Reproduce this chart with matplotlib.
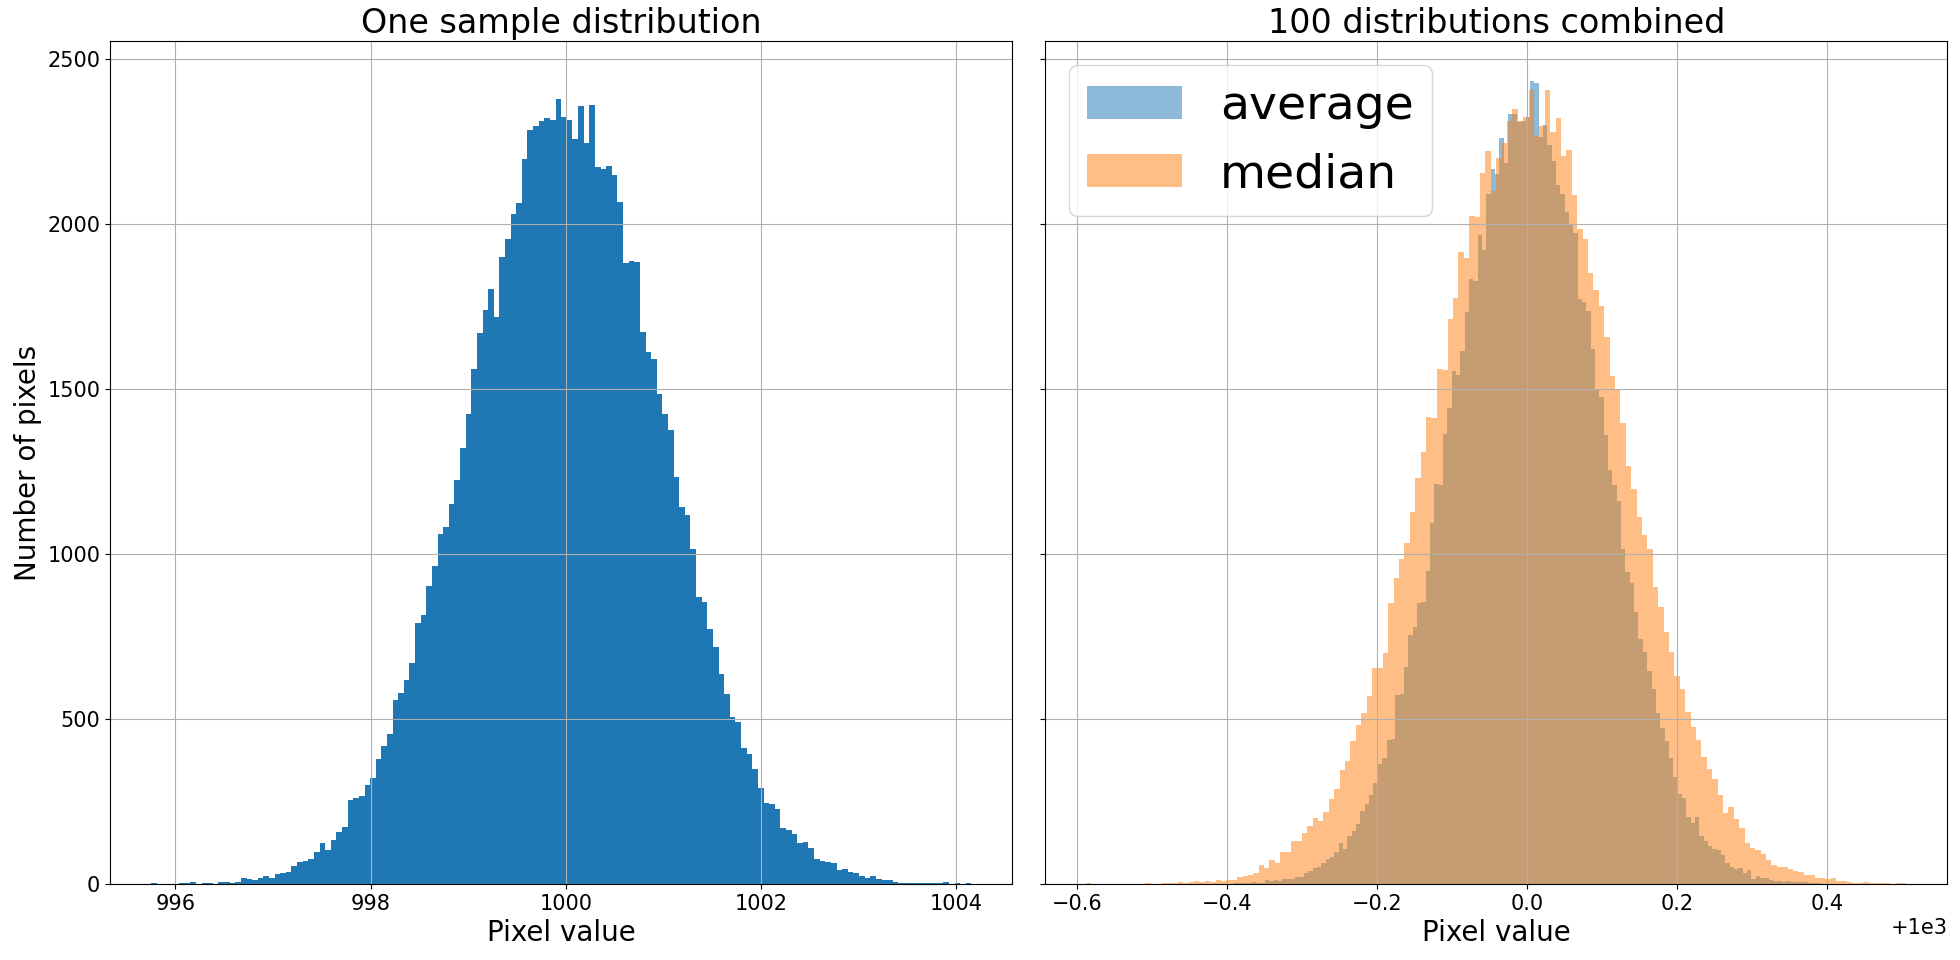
import numpy as np
import matplotlib.pyplot as plt

plt.rcParams['xtick.labelsize'] = 15
plt.rcParams['ytick.labelsize'] = 15

# one sample: counts per bin, bins span 995.751 .. 1004.156
single_lo, single_hi = 995.751, 1004.156
single_counts = [4, 0, 0, 0, 0, 4, 4, 7, 0, 4, 4, 0, 7, 7, 4, 7, 20, 16, 13, 19,
                 25, 19, 31, 34, 38, 56, 68, 71, 77, 98, 126, 104, 135, 159, 174, 254, 260, 266, 299,
                 320, 378, 418, 454, 559, 579, 619, 670, 792, 814, 904, 962, 1059, 1081, 1150,
                 1224, 1322, 1424, 1561, 1668, 1738, 1802, 1719, 1899, 1954, 2030, 2064, 2195,
                 2285, 2295, 2310, 2320, 2314, 2377,
                 2324, 2313, 2257, 2356, 2243, 2361, 2173, 2167, 2176, 2149, 2067, 1881, 1887,
                 1884, 1671, 1612, 1590, 1483, 1423, 1374, 1234, 1143, 1118, 1014, 871, 854, 774,
                 717, 637, 577, 507, 491, 413, 394, 348, 291, 245, 243, 227, 170, 164, 151, 124,
                 127, 108, 75, 70, 67, 64, 43, 46, 38, 33, 24, 19, 24, 17, 13, 13, 8, 5,
                 3, 3, 2, 3, 2, 2, 2, 6, 0, 3, 0, 3]

# 100 combined: average
avg_lo, avg_hi = 999.610, 1000.392
avg_counts = [3, 3, 3, 3, 6, 3, 3, 12, 9, 12, 10, 16, 16, 16, 22, 22,
              34, 41, 49, 52, 64, 76, 82, 97, 125, 106, 146, 161, 183, 222, 243, 271, 307,
              365, 383, 438, 441, 572, 575, 658, 755, 779, 852, 855, 949, 1095, 1211, 1208,
              1363, 1442,
              1555, 1543, 1616, 1732, 1832, 1826, 1966, 1921, 2091, 2165, 2150, 2259, 2183,
              2333, 2333, 2308, 2311, 2323,
              2431, 2427, 2262, 2298, 2238, 2190, 2118, 2090, 2037, 1997, 1973, 1772, 1764,
              1735, 1621, 1499, 1475, 1359, 1253, 1209, 1161, 1016, 944, 912, 823, 743, 703,
              646, 590, 518, 474, 433, 381, 325,
              274, 262, 202, 186, 202, 147, 132, 116, 106, 104, 87, 65, 53, 47, 50, 35, 42,
              16, 24, 18, 18, 12, 9, 9, 6, 9, 6, 6, 7, 7, 3, 3, 3]

# 100 combined: median
med_lo, med_hi = 999.412, 1000.506
med_counts = [3, 0, 0, 0, 0, 0, 0, 0, 0, 0, 0, 3, 0, 0, 3, 3, 3, 6, 3, 6,
              9, 6, 9, 6, 12, 9, 12, 12, 21, 24, 27, 33, 58, 49, 73, 64, 97, 97, 131, 131,
              155, 176, 201, 192, 219, 259, 289, 347, 374, 435, 481, 517, 570, 655, 655, 700,
              852, 928, 986, 1034, 1126, 1229, 1309, 1415, 1412,
              1561, 1558, 1712, 1775, 1915, 1896, 2023, 2020, 2155, 2221,
              2098, 2198, 2243, 2311, 2347, 2311, 2323, 2404, 2267, 2295, 2404, 2279, 2319,
              2206, 2222, 2086, 1984, 1954, 1851, 1799, 1751, 1656, 1539, 1500, 1397, 1265,
              1196, 1113, 1058, 1015, 900, 839, 765, 703, 629,
              591, 521, 475, 436, 384, 348, 318, 271, 216, 233, 198, 171, 125, 110, 104, 91,
              73, 58, 52, 52, 46, 40, 37, 27, 27, 18, 18, 15, 18, 9, 9, 6, 3, 3, 6,
              2, 2, 2, 2, 0, 2, 2]


def draw_hist(ax, lo, hi, counts, **kw):
    edges = np.linspace(lo, hi, len(counts) + 1)
    return ax.hist(edges[:-1], bins=edges, weights=counts, **kw)


fig, (ax1, ax2) = plt.subplots(1, 2, figsize=(19.6, 9.6), dpi=100, sharey=True)
fig.subplots_adjust(left=0.0561, right=0.9936, top=0.957, bottom=0.079, wspace=0.036)

draw_hist(ax1, single_lo, single_hi, single_counts, color='C0')
ax1.set_title('One sample distribution', fontsize=24)
ax1.set_xlabel('Pixel value', fontsize=20)
ax1.set_ylabel('Number of pixels', fontsize=20)
ax1.grid(True)

draw_hist(ax2, avg_lo, avg_hi, avg_counts, color='C0', alpha=0.5, label='average')
draw_hist(ax2, med_lo, med_hi, med_counts, color='C1', alpha=0.5, label='median')
ax2.set_title('100 distributions combined', fontsize=24)
ax2.set_xlabel('Pixel value', fontsize=20)
ax2.legend(loc='upper left', fontsize=34)
ax2.grid(True)

fig.savefig('out.png')
